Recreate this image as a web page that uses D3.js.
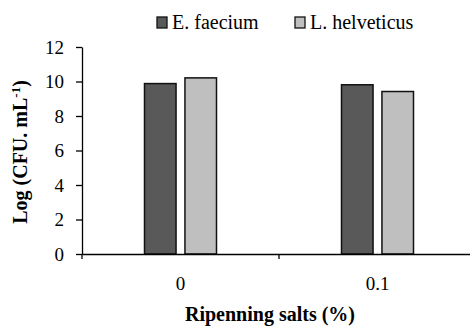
<!DOCTYPE html>
<html><head><meta charset="utf-8"><script src="https://cdn.jsdelivr.net/npm/d3@7"></script></head>
<body style="margin:0">
<script>
// data
let categories = ["0", "0.1"];
let seriesNames = ["E. faecium", "L. helveticus"];
let faecium = [9.88, 9.81];
let helveticus = [10.21, 9.42];
let yTicks = [0, 2, 4, 6, 8, 10, 12];

let colors = ["#595959", "#bfbfbf"];
let serif = "'Liberation Serif'";

let margin = {top: 47, right: 0, bottom: 73, left: 82};
let width = 394;
let height = 327 - margin.top - margin.bottom;

let svg = d3.select("body").append("svg")
    .attr("width", 470)
    .attr("height", 327);

let g = svg.append("g")
    .attr("transform", "translate(" + margin.left + "," + margin.top + ")");

let x0 = d3.scaleBand()
    .domain(categories)
    .range([0, width])
    .padding(0);

let x1 = d3.scaleBand()
    .domain(seriesNames)
    .range([x0.bandwidth() / 2 - 36, x0.bandwidth() / 2 + 36])
    .paddingInner(0.22);

let y = d3.scaleLinear()
    .domain([0, 12])
    .range([height, 0]);

let rows = categories.map((c, i) => ({cat: c, values: [faecium[i], helveticus[i]]}));

// bars
let groups = g.selectAll("g.grp")
    .data(rows)
    .enter()
    .append("g")
    .attr("class", "grp")
    .attr("transform", d => "translate(" + x0(d.cat) + ",0)");

groups.selectAll("rect")
    .data(d => d.values.map((v, i) => ({name: seriesNames[i], value: v, i: i})))
    .enter()
    .append("rect")
    .attr("x", d => x1(d.name))
    .attr("y", d => y(d.value))
    .attr("width", x1.bandwidth())
    .attr("height", d => height - y(d.value))
    .attr("fill", d => colors[d.i])
    .attr("stroke", "#111")
    .attr("stroke-width", 1.5);

// y axis
let yAxis = d3.axisLeft(y)
    .tickValues(yTicks)
    .tickSize(6)
    .tickSizeOuter(0)
    .tickPadding(12);

let yG = g.append("g")
    .call(yAxis);

// x axis: labels centered, ticks at category boundaries
let xAxis = d3.axisBottom(x0)
    .tickSize(0)
    .tickSizeOuter(0)
    .tickPadding(23);

let xG = g.append("g")
    .attr("transform", "translate(0," + height + ")")
    .call(xAxis);

[yG, xG].forEach(a => {
    a.attr("font-family", null).attr("font-size", null);
    a.selectAll("path, line").attr("stroke", "#000").attr("stroke-width", 1.3);
    a.selectAll("text")
        .style("font-family", serif)
        .style("font-size", "19px")
        .attr("fill", "#000");
});

g.selectAll("line.xbound")
    .data(categories)
    .enter()
    .append("line")
    .attr("class", "xbound")
    .attr("x1", d => x0(d))
    .attr("x2", d => x0(d))
    .attr("y1", height)
    .attr("y2", height + 5)
    .attr("stroke", "#000")
    .attr("stroke-width", 1.3);

// axis titles
svg.append("text")
    .attr("x", 270)
    .attr("y", 321)
    .attr("text-anchor", "middle")
    .style("font-family", serif)
    .style("font-size", "20px")
    .style("font-weight", "bold")
    .text("Ripenning salts (%)");

let yTitle = svg.append("text")
    .attr("transform", "translate(27,152) rotate(-90)")
    .attr("text-anchor", "middle")
    .style("font-family", serif)
    .style("font-size", "20px")
    .style("font-weight", "bold");
yTitle.append("tspan").text("Log (CFU. mL");
yTitle.append("tspan").attr("dy", -7).style("font-size", "13px").text("-1");
yTitle.append("tspan").attr("dy", 7).text(")");

// legend
let legendX = [157, 295];
let legend = svg.selectAll("g.legend")
    .data(seriesNames)
    .enter()
    .append("g")
    .attr("class", "legend")
    .attr("transform", (d, i) => "translate(" + legendX[i] + ",17)");

legend.append("rect")
    .attr("width", 10)
    .attr("height", 11)
    .attr("fill", (d, i) => colors[i])
    .attr("stroke", "#111")
    .attr("stroke-width", 1.3);

legend.append("text")
    .attr("x", 15)
    .attr("y", 12)
    .style("font-family", serif)
    .style("font-size", "20px")
    .text(d => d);
</script>
</body>
</html>
